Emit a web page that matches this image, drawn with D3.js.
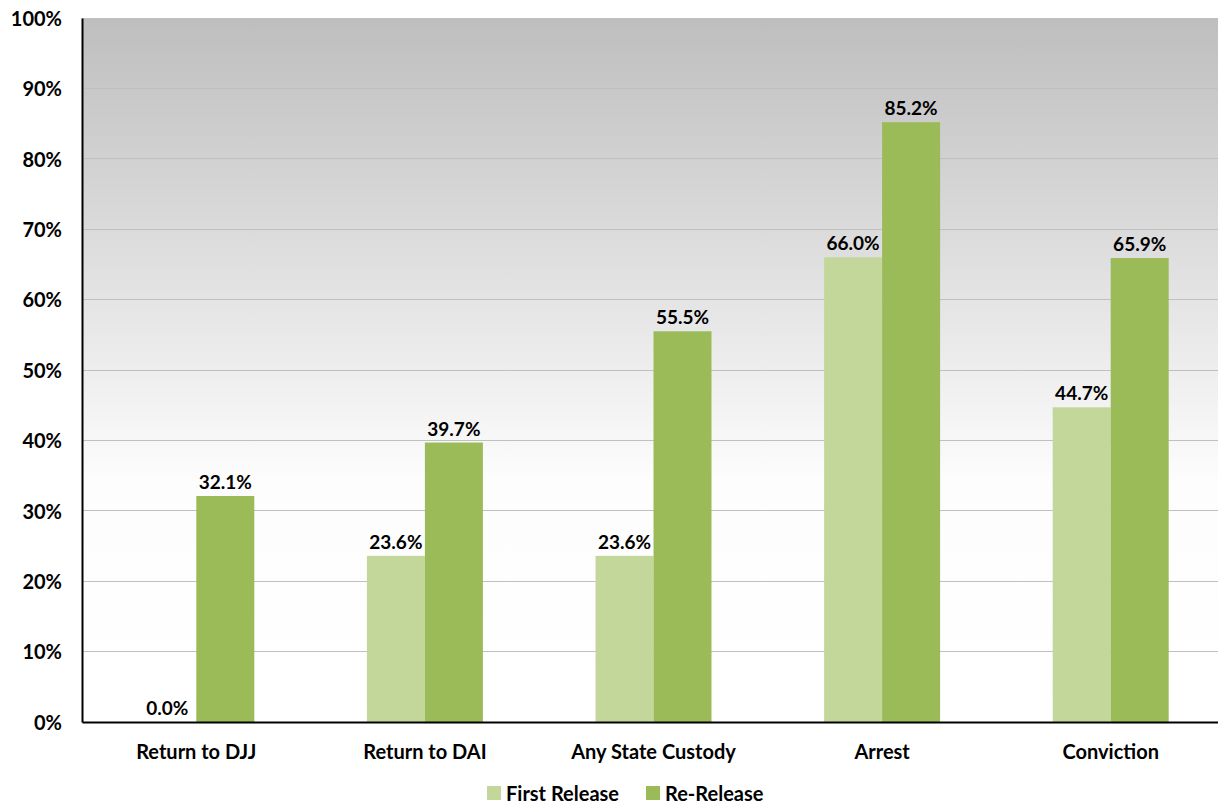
<!DOCTYPE html>
<html><head><meta charset="utf-8">
<script src="https://cdn.jsdelivr.net/npm/d3@7"></script>
<style>body{margin:0;background:#fff;} svg{display:block;} text{font-family:Lato,"Open Sans",sans-serif;font-weight:bold;fill:#000;}</style>
</head><body>
<svg id="chart" width="1218" height="805"></svg>
<script>
const categories = ["Return to DJJ","Return to DAI","Any State Custody","Arrest","Conviction"];
const seriesNames = ["First Release","Re-Release"];
const firstRelease = [0.0, 23.6, 23.6, 66.0, 44.7];
const reRelease = [32.1, 39.7, 55.5, 85.2, 65.9];
const yTicks = [0,10,20,30,40,50,60,70,80,90,100];
const colors = ["#c4d79b","#9bbb59"];

(function(){
const svg = d3.select("#chart");
const mL = 82, mR = 1225, mT = 18, mB = 722;
const x = d3.scaleBand().domain(categories).range([mL,mR]).paddingInner(0).paddingOuter(0);
const y = d3.scaleLinear().domain([0,100]).range([mB,mT]);
const barW = 58;
const xs = d3.scaleBand().domain(seriesNames).range([0,barW*2]);

const defs = svg.append("defs");
const g = defs.append("linearGradient").attr("id","bg").attr("x1",0).attr("y1",0).attr("x2",0).attr("y2",1);
g.append("stop").attr("offset","0%").attr("stop-color","#bebebe");
g.append("stop").attr("offset","66%").attr("stop-color","#fdfdfd");
g.append("stop").attr("offset","100%").attr("stop-color","#ffffff");
svg.append("rect").attr("x",mL).attr("y",mT).attr("width",mR-mL).attr("height",mB-mT).attr("fill","url(#bg)");

svg.append("g").selectAll("line").data(yTicks.filter(d=>d>0)).join("line")
  .attr("x1",mL).attr("x2",mR).attr("y1",d=>y(d)).attr("y2",d=>y(d))
  .attr("stroke","#c0c0c0").attr("stroke-width",1).attr("shape-rendering","crispEdges");

const data = categories.map((c,i)=>({cat:c, vals:[firstRelease[i], reRelease[i]]}));
const grp = svg.append("g").selectAll("g").data(data).join("g")
  .attr("transform",d=>`translate(${x(d.cat)+x.bandwidth()/2-barW},0)`);
grp.selectAll("rect").data(d=>d.vals.map((v,j)=>({v,s:seriesNames[j],j}))).join("rect")
  .attr("x",d=>xs(d.s)).attr("width",xs.bandwidth())
  .attr("y",d=>y(d.v)).attr("height",d=>mB-y(d.v)).attr("fill",d=>colors[d.j]);
grp.selectAll("text").data(d=>d.vals.map((v,j)=>({v,s:seriesNames[j],j}))).join("text")
  .attr("x",d=>xs(d.s)+xs.bandwidth()/2).attr("y",d=>y(d.v)-7)
  .attr("text-anchor","middle").attr("font-size",19).text(d=>d.v.toFixed(1)+"%");

const yAxis = d3.axisLeft(y).tickValues(yTicks).tickFormat(d=>d+"%").tickSize(0).tickPadding(20);
const ya = svg.append("g").attr("transform",`translate(${mL},0)`).call(yAxis);
ya.select(".domain").attr("stroke","#000").attr("stroke-width",2);
ya.selectAll("text").attr("font-size",20).attr("dy","0.36em").style("font-family","Lato,sans-serif").style("font-weight","bold");

const xAxis = d3.axisBottom(x).tickSize(0).tickPadding(23);
const xa = svg.append("g").attr("transform",`translate(0,${mB})`).call(xAxis);
xa.select(".domain").attr("stroke","#000").attr("stroke-width",2);
xa.selectAll("text").attr("font-size",20).style("font-family","Lato,sans-serif").style("font-weight","bold");

const legX = [487, 646];
const leg = svg.append("g").selectAll("g").data(seriesNames).join("g")
  .attr("transform",(d,i)=>`translate(${legX[i]},786)`);
leg.append("rect").attr("width",14).attr("height",14).attr("fill",(d,i)=>colors[i]);
leg.append("text").attr("x",19).attr("y",15).attr("font-size",20).text(d=>d);
})();
</script>
</body></html>
